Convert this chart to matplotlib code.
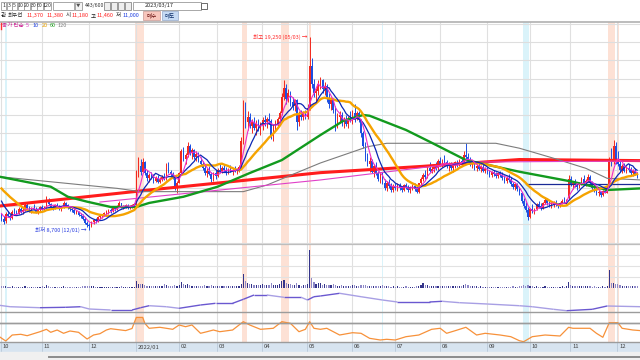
import numpy as np
import pandas as pd
import matplotlib
matplotlib.use('Agg')
import matplotlib.pyplot as plt
from matplotlib.patches import Rectangle
from matplotlib.collections import LineCollection

plt.rcParams['font.family'] = ['Noto Sans CJK KR', 'DejaVu Sans']

# ---------------- data ----------------
month_labels = ['10', '11', '12', '2022/01', '02', '03', '04', '05', '06', '07', '08', '09', '10', '11', '12']
month_days = [19, 22, 22, 20, 18, 21, 21, 21, 20, 21, 22, 20, 19, 22, 10]

pre_closes = [11900, 11800, 11750, 11700, 11650, 11700, 11600, 11650, 11700, 11600,
              11500, 11400, 11300, 11000, 10800, 10300, 9900, 9700, 9600, 9500]

opens = [
    9550, 9300, 9200, 9600, 9450, 9350, 9700, 9650, 9600, 9850,
    9700, 9800, 10050, 9900, 9750, 9900, 9850, 9700, 9800, 9950,
    9850, 9950, 10350, 10100, 9950, 9900, 10050, 9950, 9850, 9950,
    10200, 10050, 9900, 9850, 9800, 9650, 9700, 9500, 9450, 9300,
    9100, 8950, 8900, 9150, 9250, 9200, 9400, 9450, 9550, 9650,
    9700, 9800, 9750, 9900, 9850, 10000, 10150, 9950, 10000, 10000,
    9950, 10000, 10050, 10100, 11900, 12200, 11900, 12450, 11800, 11550,
    11700, 11600, 11400, 11550, 11350, 11500, 11600, 11500, 12100, 11900,
    11750, 11550, 11000, 11300, 11800, 13000, 12600, 12800, 13300, 12900,
    13100, 12700, 12850, 12500, 12300, 12100, 11800, 11950, 11750, 11500,
    11800, 11650, 12000, 11950, 12100, 12000, 11800, 12050, 11900, 12000,
    11950, 12050, 12150, 13600, 15000, 14600, 14900, 14400, 14600, 14300,
    14500, 14200, 14400, 14700, 14600, 14800, 14650, 13900, 14400, 14500,
    14800, 15100, 16000, 16500, 15900, 16200, 15700, 15500, 15800, 14600,
    15000, 14900, 15100, 14900, 15400, 17700, 16700, 16200, 16300, 16700,
    16900, 16400, 16600, 15900, 15600, 15800, 15300, 14500, 14900, 15000,
    14600, 14700, 14500, 14800, 14700, 15100, 14800, 15100, 14700, 14000,
    13300, 12700, 12300, 12500, 11900, 12200, 11800, 11500, 11700, 11300,
    11000, 11300, 11100, 10900, 11100, 11000, 11150, 11000, 10900, 11150,
    11050, 10900, 11000, 11100, 10950, 10800, 11250, 11500, 11700, 11600,
    12100, 11950, 12050, 12200, 12100, 12500, 12300, 12450, 12400, 12200,
    12300, 12100, 12250, 12400, 12250, 12500, 12400, 12800, 12700, 12500,
    12300, 12400, 12100, 12200, 12050, 12150, 11950, 12050, 11850, 11700,
    11850, 11750, 11650, 11800, 11700, 11550, 11400, 11550, 11450, 11200,
    11050, 11200, 10950, 10700, 10300, 10000, 9800, 9400, 9850, 9750,
    9850, 10100, 10000, 9900, 10200, 10350, 10150, 10050, 10100, 10200,
    10050, 10000, 10200, 10300, 10250, 10450, 11500, 11200, 11300, 11150,
    11050, 11250, 11500, 11300, 11400, 11600, 11250, 11000, 10900, 10700,
    10800, 10600, 10850, 10750, 11100, 12500, 12400, 13300, 12500, 12300,
    12000, 12200, 11950, 12100, 12000, 11800, 11950, 11750]

highs = [
    9650, 9450, 9700, 9750, 9600, 9800, 9900, 9800, 9950, 9950,
    9900, 10150, 10200, 10000, 9950, 10100, 9950, 9850, 10000, 10050,
    10000, 10550, 10450, 10200, 10050, 10100, 10150, 10050, 10000, 10300,
    10250, 10100, 10000, 9950, 9900, 9800, 9750, 9650, 9550, 9400,
    9200, 9100, 9200, 9300, 9350, 9450, 9550, 9600, 9700, 9800,
    9850, 9900, 9950, 10000, 10050, 10300, 10200, 10050, 10100, 10100,
    10050, 10100, 10150, 12000, 12700, 12600, 12650, 12500, 12000, 11800,
    11900, 11750, 11650, 11700, 11600, 11700, 11800, 12350, 12400, 12000,
    11850, 11650, 11400, 11900, 13150, 13250, 12900, 13500, 13400, 13200,
    13150, 13000, 12950, 12700, 12500, 12300, 12100, 12200, 11900, 11900,
    12000, 12100, 12300, 12200, 12300, 12150, 12100, 12250, 12100, 12200,
    12100, 12250, 13800, 15800, 15700, 15200, 15100, 14800, 14900, 14700,
    14800, 14600, 14900, 15000, 14900, 15100, 14800, 14500, 14700, 14900,
    15200, 16200, 16900, 16700, 16400, 16300, 16000, 15900, 15900, 15200,
    15300, 15200, 15300, 15600, 19250, 18100, 17000, 16500, 16900, 17100,
    17000, 16800, 16700, 16200, 16000, 15900, 15500, 15100, 15200, 15150,
    14900, 15000, 14950, 15200, 15300, 15600, 15200, 15200, 14800, 14100,
    13500, 12900, 12700, 12600, 12300, 12400, 11950, 11800, 11850, 11500,
    11400, 11500, 11300, 11200, 11300, 11250, 11300, 11100, 11200, 11300,
    11150, 11100, 11200, 11250, 11050, 11300, 11600, 11800, 12000, 12200,
    12400, 12200, 12300, 12400, 12600, 12700, 12600, 12800, 12550, 12400,
    12450, 12350, 12500, 12550, 12600, 12700, 13000, 13450, 12900, 12700,
    12500, 12500, 12300, 12400, 12250, 12300, 12150, 12150, 12000, 11950,
    12000, 11900, 11850, 11950, 11850, 11700, 11650, 11750, 11600, 11350,
    11300, 11300, 11050, 10800, 10450, 10250, 9950, 9900, 10100, 9900,
    10200, 10300, 10150, 10250, 10500, 10450, 10300, 10250, 10300, 10350,
    10200, 10250, 10400, 10500, 10400, 11700, 11650, 11400, 11500, 11300,
    11350, 11600, 11700, 11500, 11750, 11700, 11400, 11200, 11000, 10900,
    10850, 10900, 11100, 11200, 12700, 13200, 13650, 13500, 13000, 12600,
    12300, 12350, 12200, 12300, 12150, 12050, 12100, 11900]

lows = [
    9200, 9050, 9100, 9400, 9250, 9300, 9600, 9500, 9550, 9650,
    9600, 9750, 9850, 9700, 9650, 9800, 9650, 9600, 9750, 9800,
    9750, 9900, 10050, 9900, 9800, 9850, 9900, 9800, 9750, 9900,
    10000, 9850, 9750, 9700, 9600, 9550, 9450, 9350, 9250, 9000,
    8850, 8700, 8850, 9050, 9100, 9150, 9300, 9350, 9450, 9550,
    9600, 9650, 9700, 9750, 9800, 9950, 9900, 9850, 9900, 9850,
    9850, 9900, 9950, 10050, 11600, 11700, 11800, 11700, 11400, 11350,
    11500, 11300, 11350, 11300, 11250, 11400, 11450, 11450, 11800, 11650,
    11500, 10900, 10700, 11250, 11750, 12500, 12300, 12700, 12800, 12600,
    12600, 12500, 12400, 12200, 12000, 11700, 11600, 11700, 11350, 11400,
    11500, 11600, 11850, 11800, 11900, 11700, 11750, 11850, 11700, 11850,
    11750, 11900, 12100, 13400, 14300, 14200, 14300, 14000, 14200, 13900,
    14100, 13900, 14200, 14400, 14300, 14500, 13700, 13600, 14200, 14300,
    14600, 15000, 15800, 15600, 15700, 15500, 15300, 15200, 14200, 14400,
    14700, 14700, 14800, 14800, 15300, 16500, 16000, 15700, 16100, 16400,
    16200, 16100, 15700, 15400, 15300, 15100, 14100, 14300, 14600, 14400,
    14300, 14400, 14300, 14600, 14500, 14600, 14700, 14600, 13800, 13200,
    12500, 12200, 11900, 11800, 11600, 11700, 11400, 11300, 11200, 10900,
    10850, 11000, 10800, 10800, 10900, 10850, 10900, 10800, 10850, 10950,
    10800, 10750, 10900, 10850, 10700, 10750, 11150, 11400, 11500, 11550,
    11850, 11800, 11900, 12000, 12000, 12200, 12150, 12300, 12100, 11950,
    12000, 11900, 12100, 12150, 12200, 12300, 12350, 12600, 12400, 12200,
    12100, 12000, 11950, 12000, 11900, 11850, 11800, 11750, 11600, 11600,
    11650, 11550, 11550, 11600, 11450, 11300, 11250, 11350, 11100, 10950,
    10900, 10850, 10600, 10200, 9900, 9700, 9250, 9350, 9650, 9600,
    9800, 9900, 9800, 9850, 10100, 10050, 9950, 9900, 9950, 10000,
    9900, 9950, 10100, 10150, 10100, 10400, 11100, 10950, 11050, 10900,
    11000, 11150, 11200, 11100, 11350, 11200, 10900, 10800, 10600, 10550,
    10500, 10550, 10700, 10700, 11050, 12200, 12300, 12300, 12200, 11900,
    11800, 11850, 11800, 11900, 11700, 11650, 11700, 11550]

closes = [
    9300, 9150, 9600, 9450, 9350, 9700, 9650, 9550, 9850, 9700,
    9800, 10050, 9900, 9750, 9900, 9850, 9700, 9800, 9950, 9850,
    9950, 10350, 10100, 9950, 9900, 10050, 9950, 9850, 9950, 10200,
    10050, 9900, 9850, 9800, 9650, 9700, 9500, 9450, 9300, 9100,
    8950, 8900, 9150, 9250, 9200, 9400, 9450, 9550, 9650, 9700,
    9800, 9750, 9900, 9850, 10000, 10150, 9950, 10000, 10050, 9950,
    10000, 10050, 10100, 11900, 12200, 11900, 12450, 11800, 11550, 11700,
    11600, 11400, 11550, 11350, 11500, 11600, 11500, 12100, 11900, 11750,
    11550, 11000, 11300, 11800, 13000, 12600, 12800, 13300, 12900, 13100,
    12700, 12850, 12500, 12300, 12100, 11800, 11950, 11750, 11500, 11800,
    11650, 12000, 11950, 12100, 12000, 11800, 12050, 11900, 12000, 11950,
    12050, 12150, 13600, 15000, 14600, 14900, 14400, 14600, 14300, 14500,
    14200, 14400, 14700, 14600, 14800, 14650, 13900, 14400, 14500, 14800,
    15100, 16000, 16500, 15900, 16200, 15700, 15500, 15800, 14600, 15000,
    14900, 15100, 14900, 15400, 17700, 16700, 16200, 16300, 16700, 16900,
    16400, 16600, 15900, 15600, 15800, 15300, 14500, 14900, 15000, 14600,
    14700, 14500, 14800, 14700, 15100, 14800, 15100, 14700, 14000, 13300,
    12700, 12300, 12500, 11900, 12200, 11800, 11500, 11700, 11300, 11000,
    11300, 11100, 10900, 11100, 11000, 11150, 11000, 10900, 11150, 11050,
    10900, 11000, 11100, 10950, 10800, 11250, 11500, 11700, 11600, 12100,
    11950, 12050, 12200, 12100, 12500, 12300, 12450, 12400, 12200, 12300,
    12100, 12250, 12400, 12250, 12500, 12400, 12800, 12700, 12500, 12300,
    12400, 12100, 12200, 12050, 12150, 11950, 12050, 11850, 11700, 11850,
    11750, 11650, 11800, 11700, 11550, 11400, 11550, 11450, 11200, 11050,
    11200, 10950, 10700, 10300, 10000, 9800, 9400, 9850, 9750, 9850,
    10100, 10000, 9900, 10200, 10350, 10150, 10050, 10100, 10200, 10050,
    10000, 10200, 10300, 10250, 10350, 11500, 11200, 11300, 11150, 11050,
    11250, 11500, 11300, 11400, 11600, 11250, 11000, 10900, 10700, 10800,
    10600, 10850, 10750, 11100, 12500, 12400, 13300, 12500, 12300, 12000,
    12200, 11950, 12100, 12000, 11800, 11950, 11750, 11700]

volumes = [  # thousand shares
    900, 800, 1100, 700, 600, 800, 700, 600, 700, 600, 700, 900, 700, 600, 600, 700, 600, 600, 700,
    800, 700, 1500, 1000, 700, 600, 700, 600, 600, 600, 900, 700, 600, 600, 500, 600, 700, 600, 700, 800, 900, 1000,
    1200, 900, 800, 600, 600, 500, 500, 600, 500, 500, 400, 500, 500, 600, 700, 900, 600, 500, 500, 600, 600, 700,
    3300, 2200, 1800, 2000, 1500, 1200, 1000, 900, 1000, 900, 800, 900, 900, 1800, 1400, 1000, 900, 1000, 1400, 1100,
    1300, 2800, 2000, 1500, 2200, 1400, 1200, 1100, 1000, 1000, 900, 900, 1300, 1000, 1100, 1400, 1000, 900,
    1100, 900, 1000, 900, 1000, 900, 800, 1000, 900, 800, 900, 1800, 7200, 3500, 2400, 1800, 2200, 1500, 1300, 1600, 1400,
    1800, 1500, 1400, 1700, 2300, 1500, 1300, 1400, 1800, 3500, 4200, 2600, 2000, 1800, 1500, 1400, 2400, 1600, 1200, 1300, 1500,
    2000, 19000, 4800, 3000, 2200, 2600, 2300, 1600, 1800, 1700, 1400, 1500, 2200, 1500, 1200, 1100, 1300, 1000, 1000, 1100, 1200,
    1500, 1300, 1200, 1100, 1700, 1500, 1300, 1100, 1200, 1000, 900, 1000, 900, 800, 1400, 1100, 900, 800, 700, 800,
    700, 800, 700, 600, 700, 800, 700, 600, 700, 600, 800, 1200, 1600, 2600, 1400, 1300, 1000, 900, 800, 900, 1200,
    1100, 1000, 1000, 900, 800, 900, 800, 900, 1000, 900, 1200, 1400, 2200, 1600, 1100, 900, 800, 800, 700, 800, 700, 700,
    700, 600, 700, 600, 600, 700, 600, 600, 700, 700, 600, 700, 800, 600, 700, 800, 1100, 1300, 1200, 1500,
    1100, 800, 700, 800, 700, 600, 700, 800, 700, 600, 700, 600, 600, 700, 700, 800, 700, 800, 3000,
    1600, 1000, 900, 800, 900, 1000, 900, 800, 900, 800, 700, 800, 700, 600, 700, 800, 700, 1200, 9000, 2600, 2700, 1800,
    1900, 1300, 1000, 1100, 900, 1000, 900, 1100, 800, 800]

# long moving averages / trend lines (bar index, price)
ma60_idx = [-1, 23, 31, 40, 51, 63, 69, 85, 101, 116, 131, 149, 160, 169, 172, 189, 200, 217, 242, 267, 283, 299]
ma60_val = [11620, 11070, 10520, 10250, 9960, 9960, 10180, 10520, 11070, 11820, 12530, 13900, 14700, 15000, 14960,
            14180, 13540, 12530, 11890, 11340, 10890, 10980]
ma120_idx = [-1, 54, 65, 113, 124, 149, 171, 180, 231, 242, 258, 273, 283, 299]
ma120_val = [11620, 10980, 10800, 10800, 11160, 12370, 13260, 13450, 13450, 13180, 12630, 12080, 11530, 11440]
ma240_idx = [-1, 69, 149, 196, 242, 299]
ma240_val = [10010, 10890, 11840, 12180, 12560, 12500]
trend_idx = [46, 149, 218, 299]
trend_val = [10230, 11440, 12420, 12480]
hline_idx = [245, 299]
hline_val = [11220, 11220]

# sub-indicators (bar index, value)
obv_idx = [-1, 4, 18, 30, 37, 41, 51, 61, 65, 69, 77, 83, 93, 100, 108, 113, 118, 124, 132, 140, 143, 146, 149,
           158, 168, 178, 185, 200, 206, 214, 227, 242, 248, 258, 264, 276, 283, 299]
obv_val = [27.9, 22, 17.9, 19.6, 22, 12.5, 8.3, 8.3, 17.9, 26.2, 22, 15.4, 29.2, 36.2, 36.2, 52.9, 70.8, 70.8, 61.2,
           61.2, 50, 63.7, 66.7, 77.9, 63.7, 50, 41.7, 41.7, 44.6, 38.8, 33.3, 26.2, 22, 11.2, 5.4, 11.2, 25, 22]
osc_idx = [-1, 2, 5, 9, 12, 15, 18, 21, 23, 26, 29, 32, 36, 40, 43, 46, 49, 51, 58, 61, 63, 66, 67, 69, 74, 77, 80,
           83, 86, 89, 93, 96, 99, 102, 108, 113, 116, 121, 127, 131, 135, 139, 142, 144, 146, 149, 152, 158, 164,
           168, 172, 177, 180, 184, 189, 195, 201, 205, 208, 212, 217, 222, 226, 233, 238, 242, 244, 248, 254, 261,
           265, 267, 275, 278, 281, 284, 288, 290, 295, 299]
osc_val = [17.7, 3.3, 23.3, 25.7, 21, 27.7, 34.3, 42.3, 32.3, 40, 29, 36.7, 32.3, 10, 23.3, 27.7, 40, 44.3, 38, 45,
           82, 82, 62, 45.7, 49, 45.7, 42.3, 56.7, 51, 56.7, 29, 34.3, 40, 34.3, 40, 67.7, 56.7, 42.3, 45.7, 67.7,
           62.3, 34.3, 42.3, 67.7, 45.7, 42.3, 45.7, 23.3, 31, 29, 12.3, 6.7, 9, 6.7, 17.7, 23.3, 42.3, 45.7, 29, 37.7,
           49, 23.3, 29, 23.3, 17.7, 4.3, 1, 17.7, 23.3, 20, 49, 45.7, 45.7, 29, 15.7, 64.3, 64.3, 45.7, 40, 37.7]
osc_level = 62.3

peach_days = [63, 64, 65, 66, 113, 114, 131, 132, 133, 134, 144, 284, 285, 286, 288]
cyan_days = [2, 178, 244, 245, 246]

# ---------------- figure ----------------
W, H = 640, 360
fig = plt.figure(figsize=(6.4, 3.6), dpi=100)
fig.patch.set_facecolor('white')


def add_ax(top, bottom):
    a = fig.add_axes([0, 1 - bottom / H, 1, (bottom - top) / H])
    a.set_xticks([])
    a.set_yticks([])
    for s in a.spines.values():
        s.set_visible(False)
    a.set_facecolor('white')
    return a


ax = add_ax(21.7, 244)
axv = add_ax(244, 288)
axp = add_ax(288, 312)
axo = add_ax(312, 342)
axx = add_ax(342, 352)

n = min(len(opens), len(highs), len(lows), len(closes))
x = np.arange(n)
o = np.array(opens[:n], float)
h = np.array(highs[:n], float)
l = np.array(lows[:n], float)
c = np.array(closes[:n], float)
vol = np.array(volumes[:n], float)
nv = len(vol)

XL = (-0.70, 298.36)
month_start = np.cumsum([0] + month_days[:-1])

for a in (ax, axv, axp, axo):
    a.set_xlim(*XL)
    for d in peach_days:
        a.axvspan(d - 0.5, d + 0.5, color='#fde1d5', lw=0, zorder=0.2)
    for d in cyan_days:
        a.axvspan(d - 0.4, d + 0.4, color='#daf3fa', lw=0, zorder=0.2)
    for m in month_start:
        a.axvline(m - 0.25, color='#e0e0e0', lw=0.8, zorder=0.4)
axx.set_xlim(*XL)

# price panel
ax.set_ylim(7930, 20114)
for p in range(8000, 20001, 1000):
    ax.axhline(p, color='#dedede', lw=0.8, zorder=0.4)

up = c >= o
cols = np.where(up, '#f2281e', '#1c4fe2')
ax.vlines(x, l, h, colors=cols, lw=0.7, zorder=3)
ax.bar(x, np.maximum(np.abs(c - o), 40), bottom=np.minimum(o, c), width=0.72, color=cols, lw=0, zorder=3)

allc = pd.Series(pre_closes + list(c))
k = len(pre_closes)
ma5 = allc.rolling(5, min_periods=1).mean().values[k:]
ma10 = allc.rolling(10, min_periods=1).mean().values[k:]
ma20 = allc.rolling(20, min_periods=1).mean().values[k:]

ax.plot(ma240_idx, ma240_val, color='#ff1c1c', lw=2.2, zorder=4, solid_capstyle='butt')
ax.plot(ma120_idx, ma120_val, color='#7c7c7c', lw=0.8, zorder=4)
ax.plot(trend_idx, trend_val, color='#e040c8', lw=0.8, zorder=4)
ax.plot(hline_idx, hline_val, color='#1a2a96', lw=0.9, zorder=4)
ax.plot(ma60_idx, ma60_val, color='#129a1e', lw=1.7, zorder=5)
ax.plot(x, ma20, color='#f5a300', lw=1.7, zorder=5)
ax.plot(x, ma10, color='#0c28b4', lw=0.9, zorder=6)
ax.plot(x, ma5, color='#ee2cc8', lw=0.8, zorder=6)

imax = int(np.argmax(h))
imin = int(np.argmin(l))
ax.text(imax - 1.3, h[imax], '최고 19,250 (05/03) →', ha='right', va='center', fontsize=4.0, color='#ff2a2a', zorder=7)
ax.text(imin - 1.3, l[imin], '최저 8,700 (12/01) →', ha='right', va='center', fontsize=4.0, color='#2a3ee0', zorder=7)

# volume panel
axv.set_ylim(0, 22000)
for g in (5500, 11000, 16500):
    axv.axhline(g, color='#e2e2e2', lw=0.8, zorder=0.4)
vup = c[:nv] >= o[:nv]
vcols = np.where(vup, '#34348a', '#8f89c8')
axv.bar(np.arange(nv), vol, width=0.55, color=vcols, lw=0, zorder=3)

# OBV-like panel (two-tone by direction)
axp.set_ylim(0, 100)
pts = np.column_stack([obv_idx, obv_val])
segs = np.stack([pts[:-1], pts[1:]], axis=1)
seg_cols = ['#6a58d0' if b[1] >= a_[1] else '#a89fe4' for a_, b in zip(pts[:-1], pts[1:])]
axp.add_collection(LineCollection(segs, colors=seg_cols, linewidths=1.0, zorder=3))

# oscillator panel
axo.set_ylim(0, 100)
oi = np.array(osc_idx, float)
ov_ = np.array(osc_val, float)
axo.fill_between(oi, ov_, osc_level, where=ov_ > osc_level, interpolate=True, color='#f8c39a', lw=0, zorder=2)
axo.axhline(osc_level, color='#a0a0a0', lw=1.0, zorder=2.5)
axo.plot(oi, ov_, color='#f7913a', lw=0.9, zorder=3)

# x axis bar
axx.set_facecolor('#d7e4f0')
axx.set_ylim(0, 1)
for m, lab in zip(month_start, month_labels):
    axx.text(m + 0.6, 0.5, lab, ha='left', va='center', fontsize=4.2, color='#404040')
    axx.axvline(m - 0.25, color='#b8c8d8', lw=0.6)

# ---------------- overlay (header, borders) ----------------
ov = fig.add_axes([0, 0, 1, 1], zorder=10)
ov.set_xlim(0, W)
ov.set_ylim(H, 0)
ov.axis('off')
ov.patch.set_alpha(0)

ov.add_patch(Rectangle((0, 0), W, 21, color='white', zorder=1))
ov.plot([0, W], [21.5, 21.5], color='#b0b0b0', lw=1.2, zorder=2)
ov.plot([0, W], [244, 244], color='#bdbdbd', lw=0.9, zorder=2)
for yy in (312, 323.3, 342):
    ov.plot([0, W], [yy, yy], color='#9c9c9c', lw=1.0, zorder=2)
ov.add_patch(Rectangle((0, 352), W, 8, color='#f0f0f0', zorder=1))
ov.plot([49, W], [356.5, 356.5], color='#8c8c8c', lw=1.4, zorder=2)

# toolbar row 1
btns = [('1', 1, 6), ('3', 6.5, 11.5), ('5', 12, 17), ('10', 17.5, 23.5), ('20', 24, 30), ('30', 30.5, 36.5),
        ('60', 37, 43), ('120', 43.5, 51)]
for t, x0, x1 in btns:
    ov.add_patch(Rectangle((x0, 1.5), x1 - x0, 8, fc='white', ec='#9a9a9a', lw=0.6, zorder=2))
    ov.text((x0 + x1) / 2, 5.6, t, ha='center', va='center', fontsize=3.8, color='#333333', zorder=3)
ov.add_patch(Rectangle((53, 1.5), 21, 8, fc='white', ec='#9a9a9a', lw=0.6, zorder=2))
ov.add_patch(Rectangle((75, 1.5), 7, 8, fc='#f4f4f4', ec='#9a9a9a', lw=0.6, zorder=2))
ov.text(78.5, 5.6, '▼', ha='center', va='center', fontsize=3.2, color='#555555', zorder=3)
ov.text(85, 5.6, '443/600', ha='left', va='center', fontsize=3.8, color='#333333', zorder=3)
for x0 in (104, 111, 118, 125):
    ov.add_patch(Rectangle((x0, 1.5), 6, 8, fc='#eeeeee', ec='#8a8a8a', lw=0.6, zorder=2))
ov.add_patch(Rectangle((133, 1.5), 68, 8, fc='white', ec='#9a9a9a', lw=0.6, zorder=2))
ov.text(145, 5.6, '2023/03/17', ha='left', va='center', fontsize=4.0, color='#222222', zorder=3)
ov.add_patch(Rectangle((201, 2.5), 6, 6, fc='white', ec='#555555', lw=0.6, zorder=3))

# row 2 quotes
row2 = [('관', 0.5, '#222222'), ('최우선', 7.5, '#222222'), ('11,370', 27, '#ff2020'), ('11,380', 46.5, '#ff2020'),
        ('시', 65.5, '#222222'), ('11,180', 72, '#ff2020'), ('고', 91, '#222222'), ('11,460', 97, '#ff2020'),
        ('저', 116, '#222222'), ('11,000', 123, '#1c3ce0')]
for t, x0, col in row2:
    ov.text(x0, 15.3, t, ha='left', va='center', fontsize=4.0, color=col, zorder=3)
ov.add_patch(Rectangle((143, 11), 17, 8.5, fc='#f7c6bd', ec='#c89a94', lw=0.5, zorder=2))
ov.text(151.5, 15.3, '매수', ha='center', va='center', fontsize=4.0, color='#6a1010', zorder=3)
ov.add_patch(Rectangle((162, 11), 16, 8.5, fc='#c6daf4', ec='#94a8c8', lw=0.5, zorder=2))
ov.text(170, 15.3, '매도', ha='center', va='center', fontsize=4.0, color='#10306a', zorder=3)

# legend row
ov.plot([0.6, 0.6], [22.5, 28.5], color='#ff3030', lw=1.0, zorder=3)
leg = [('종가 단순', 2.5, '#d0309a'), ('5', 26, '#e030c0'), ('10', 32.5, '#2848e0'), ('20', 41.5, '#e8a000'),
       ('60', 50, '#22a022'), ('120', 58, '#808080')]
for t, x0, col in leg:
    ov.text(x0, 25.5, t, ha='left', va='center', fontsize=4.0, color=col, zorder=3)

fig.savefig('out.png', dpi=100, facecolor='white')
